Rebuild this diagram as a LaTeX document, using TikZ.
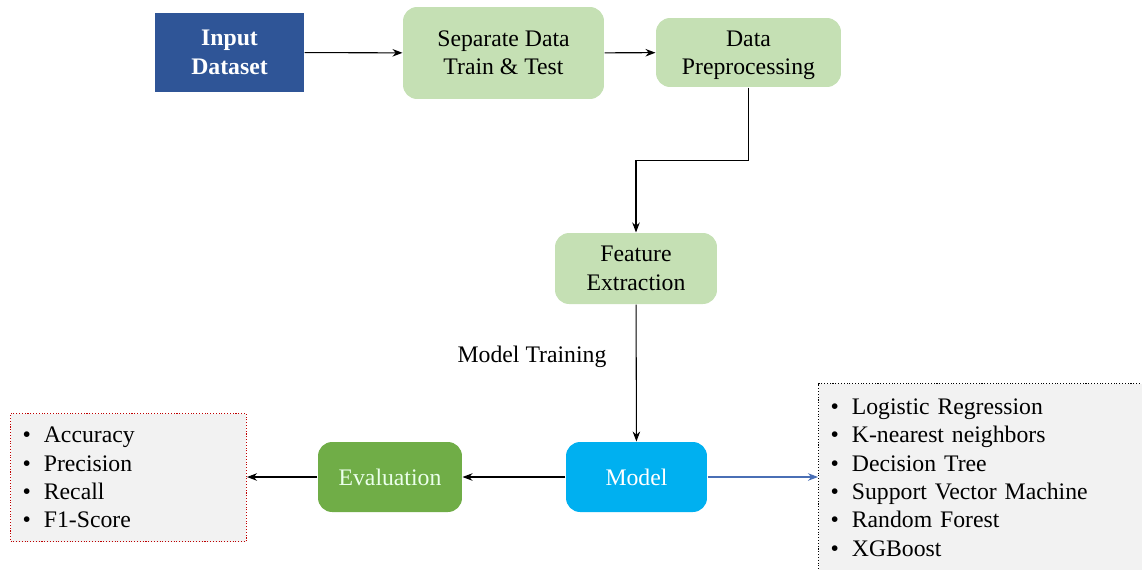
\documentclass[tikz,border=0pt]{standalone}
\usepackage{fontspec}
\setmainfont{Liberation Serif}
\usetikzlibrary{arrows.meta,positioning}
\definecolor{inblue}{HTML}{2F5597}
\definecolor{stepgreen}{HTML}{C5E0B4}
\definecolor{evgreen}{HTML}{70AD47}
\definecolor{mdblue}{HTML}{00B0F0}
\definecolor{listgray}{HTML}{F2F2F2}
\definecolor{linkblue}{HTML}{4A6FB5}
\tikzset{
  stepbox/.style={fill=stepgreen,rounded corners=8pt,align=center,inner sep=0pt},
  listbox/.style={fill=listgray,align=left,inner xsep=0.24cm,inner ysep=0pt,anchor=north west},
}
\newcommand{\itm}{\textbullet\hspace{0.55em}}
\begin{document}
\begin{tikzpicture}[>=Stealth,x=0.02cm,y=-0.02cm,line width=0.6pt,
  every node/.style={font=\fontsize{13.5}{16.2}\selectfont}]
\useasboundingbox (0,0) rectangle (1142,569);
\node[fill=inblue,text=white,font=\fontsize{13.5}{16.2}\selectfont\bfseries,align=center,
  minimum width=2.98cm,minimum height=1.58cm,inner sep=0pt] (inp) at (229.5,52.5) {Input\\Dataset};
\node[stepbox,minimum width=4.02cm,minimum height=1.84cm] (sep) at (503.5,53) {Separate Data\\Train \& Test};
\node[stepbox,minimum width=3.7cm,minimum height=1.38cm] (pre) at (748.5,52.5) {Data\\\smash{Preprocessing}};
\node[stepbox,minimum width=3.24cm,minimum height=1.42cm] (feat) at (636,268.5) {Feature\\Extraction};
\node (train) at (532,357) {Model Training};
\node[fill=mdblue,text=white,rounded corners=8pt,minimum width=2.82cm,minimum height=1.4cm] (model) at (636.5,477) {Model};
\node[fill=evgreen,text=green!8,rounded corners=8pt,minimum width=2.88cm,minimum height=1.4cm] (eval) at (390,477) {Evaluation};
\node[listbox,draw=red!75!black,densely dotted,text width=4.24cm,minimum height=2.56cm] (metrics) at (10,413)
  {\itm Accuracy\\ \itm Precision\\ \itm Recall\\ \itm F1-Score};
\node[listbox,draw=black,densely dotted,text width=6.0cm,minimum height=3.76cm] (algos) at (818,383)
  {\itm Logistic Regression\\ \itm K-nearest neighbors\\ \itm Decision Tree\\ \itm Support Vector Machine\\ \itm Random Forest\\ \itm XGBoost};
\draw[->] (inp) -- (sep);
\draw[->] (sep) -- (pre);
\draw[->] (pre.south) -- ++(0,73) -| (feat.north);
\draw[->] (feat) -- (model);
\draw[->] (model) -- (eval);
\draw[->] (eval) -- (metrics.east |- eval);
\draw[->,linkblue] (model) -- (algos.west |- model);
\end{tikzpicture}
\end{document}
